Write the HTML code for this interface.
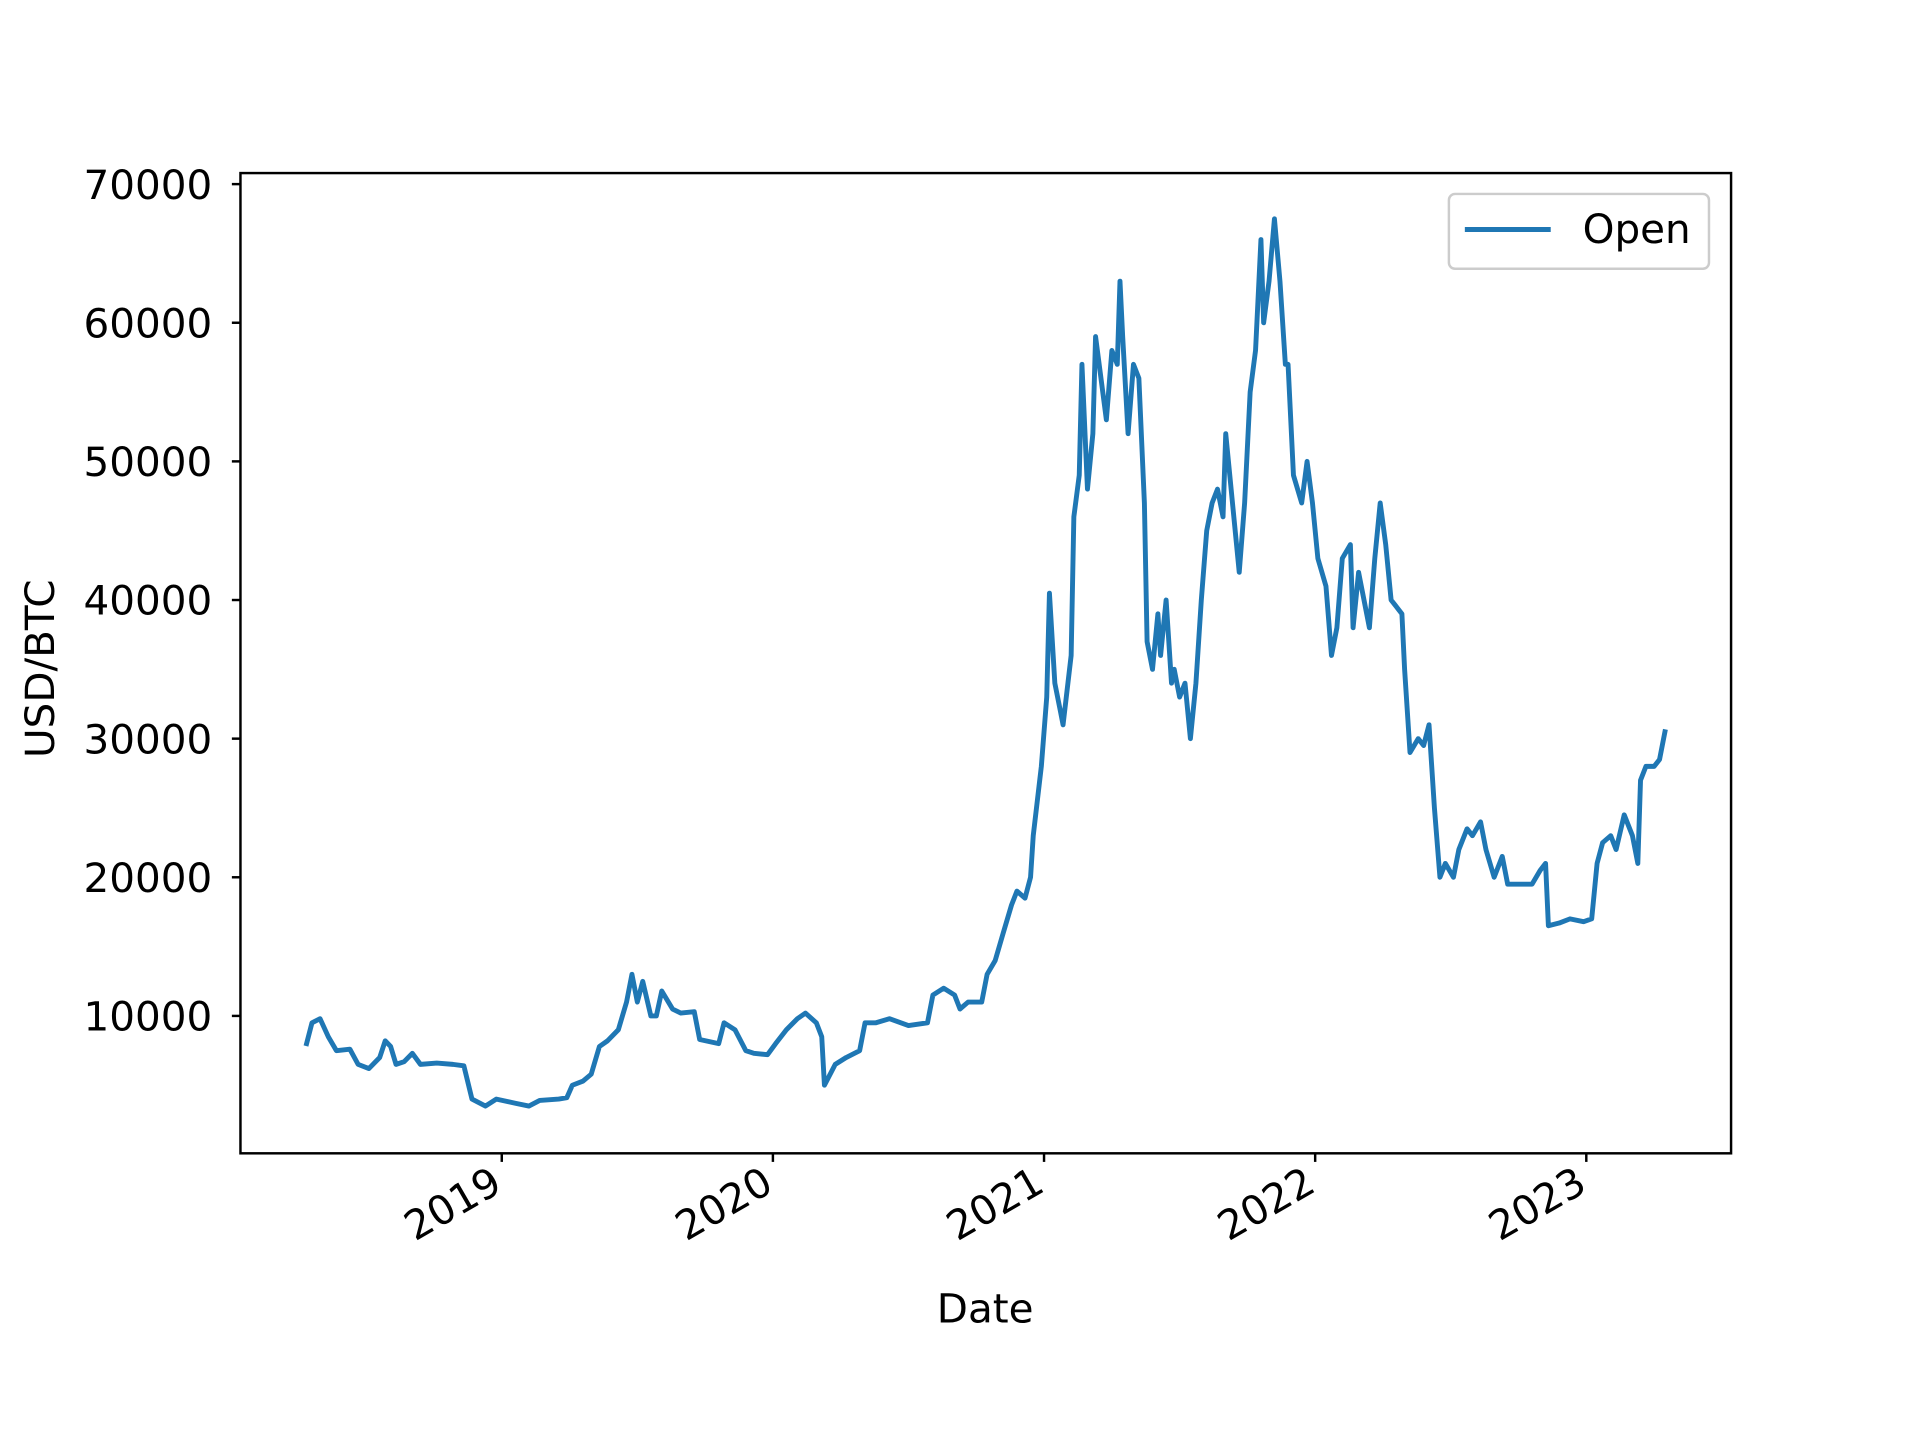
<!DOCTYPE html>
<html><head><meta charset="utf-8"><style>
html,body{margin:0;padding:0;background:#fff;}
svg{display:block;}
text{font-family:"DejaVu Sans","Liberation Sans",sans-serif;fill:#000;}
</style></head><body>
<svg id="chart" width="1920" height="1440" viewBox="0 0 1565 1173.6" xmlns="http://www.w3.org/2000/svg">
<rect width="1565" height="1174" fill="#fff"/>
<g id="plot"></g>
<rect x="196" y="141" width="1215" height="799" fill="none" stroke="#000" stroke-width="2"/>
<g id="yticks"></g>
<g id="xticks"></g>
<text x="0" y="0" font-size="33" text-anchor="middle" transform="translate(44,545) rotate(-90)">USD/BTC</text>
<text x="803" y="1078" font-size="33" text-anchor="middle">Date</text>
<g>
<rect x="1181" y="158" width="212" height="61" rx="5" fill="#fff" fill-opacity="0.8" stroke="#ccc" stroke-width="2"/>
<line x1="1194" y1="187" x2="1264" y2="187" stroke="#1f77b4" stroke-width="4"/>
<text x="1290" y="198" font-size="33">Open</text>
</g>
</svg>
<script>
const dates=[2018.28,2018.30,2018.33,2018.36,2018.39,2018.44,2018.47,2018.51,2018.55,2018.57,2018.59,2018.61,2018.64,2018.67,2018.70,2018.76,2018.82,2018.86,2018.89,2018.94,2018.98,2019.05,2019.10,2019.14,2019.21,2019.24,2019.26,2019.30,2019.33,2019.36,2019.39,2019.43,2019.46,2019.48,2019.50,2019.52,2019.55,2019.57,2019.59,2019.63,2019.66,2019.71,2019.73,2019.80,2019.82,2019.86,2019.90,2019.93,2019.98,2020.01,2020.05,2020.09,2020.12,2020.16,2020.18,2020.19,2020.23,2020.27,2020.32,2020.34,2020.38,2020.43,2020.50,2020.57,2020.59,2020.63,2020.67,2020.69,2020.72,2020.77,2020.79,2020.82,2020.85,2020.88,2020.90,2020.93,2020.95,2020.96,2020.99,2021.01,2021.02,2021.04,2021.06,2021.07,2021.10,2021.11,2021.13,2021.14,2021.16,2021.18,2021.19,2021.21,2021.23,2021.25,2021.27,2021.28,2021.29,2021.31,2021.33,2021.35,2021.37,2021.38,2021.40,2021.42,2021.43,2021.45,2021.47,2021.48,2021.50,2021.52,2021.54,2021.56,2021.58,2021.60,2021.62,2021.64,2021.66,2021.67,2021.70,2021.72,2021.74,2021.76,2021.78,2021.80,2021.81,2021.83,2021.85,2021.87,2021.89,2021.90,2021.92,2021.95,2021.97,2021.99,2022.01,2022.04,2022.06,2022.08,2022.10,2022.13,2022.14,2022.16,2022.18,2022.20,2022.22,2022.24,2022.26,2022.28,2022.30,2022.32,2022.33,2022.35,2022.38,2022.40,2022.42,2022.44,2022.46,2022.48,2022.51,2022.53,2022.56,2022.58,2022.61,2022.63,2022.66,2022.69,2022.71,2022.76,2022.80,2022.83,2022.85,2022.86,2022.90,2022.94,2022.99,2023.02,2023.04,2023.06,2023.09,2023.11,2023.14,2023.17,2023.19,2023.20,2023.22,2023.25,2023.27,2023.29];
const openValues=[8000,9500,9800,8500,7500,7600,6500,6200,7000,8200,7800,6500,6700,7300,6500,6600,6500,6400,4000,3500,4000,3700,3500,3900,4000,4100,5000,5300,5800,7800,8200,9000,11000,13000,11000,12500,10000,10000,11800,10500,10200,10300,8300,8000,9500,9000,7500,7300,7200,8000,9000,9800,10200,9500,8500,5000,6500,7000,7500,9500,9500,9800,9300,9500,11500,12000,11500,10500,11000,11000,13000,14000,16000,18000,19000,18500,20000,23000,28000,33000,40500,34000,32000,31000,36000,46000,49000,57000,48000,52000,59000,56000,53000,58000,57000,63000,59000,52000,57000,56000,47000,37000,35000,39000,36000,40000,34000,35000,33000,34000,30000,34000,40000,45000,47000,48000,46000,52000,46000,42000,47000,55000,58000,66000,60000,63000,67500,63000,57000,57000,49000,47000,50000,47000,43000,41000,36000,38000,43000,44000,38000,42000,40000,38000,43000,47000,44000,40000,39500,39000,35000,29000,30000,29500,31000,25000,20000,21000,20000,22000,23500,23000,24000,22000,20000,21500,19500,19500,19500,20500,21000,16500,16700,17000,16800,17000,21000,22500,23000,22000,24500,23000,21000,27000,28000,28000,28500,30500];
const yTicks=[10000,20000,30000,40000,50000,60000,70000];
const xTicks=[2019,2020,2021,2022,2023];
const NS='http://www.w3.org/2000/svg';
const xs=yr=>409+(yr-2019)*221;
const ys=v=>941-v*113/10000;
const plot=document.getElementById('plot');
const path=document.createElementNS(NS,'path');
path.setAttribute('d',dates.map((d,i)=>(i?'L':'M')+xs(d).toFixed(1)+','+ys(openValues[i]).toFixed(1)).join(''));
path.setAttribute('fill','none');path.setAttribute('stroke','#1f77b4');path.setAttribute('stroke-width','4');path.setAttribute('stroke-linejoin','round');path.setAttribute('stroke-linecap','square');


plot.appendChild(path);
const yg=document.getElementById('yticks');
yTicks.forEach(v=>{
 const y=ys(v);
 const l=document.createElementNS(NS,'line');
 l.setAttribute('x1',189);l.setAttribute('x2',196);l.setAttribute('y1',y);l.setAttribute('y2',y);l.setAttribute('stroke','#000');l.setAttribute('stroke-width','2');
 
 
 yg.appendChild(l);
 const t=document.createElementNS(NS,'text');
 t.setAttribute('x',173);t.setAttribute('y',y+12);t.setAttribute('text-anchor','end');t.setAttribute('font-size','33');
 t.textContent=v;
 
 
 yg.appendChild(t);
});
const xg=document.getElementById('xticks');
xTicks.forEach(yr=>{
 const x=xs(yr);
 const l=document.createElementNS(NS,'line');
 l.setAttribute('x1',x);l.setAttribute('x2',x);l.setAttribute('y1',940);l.setAttribute('y2',947);l.setAttribute('stroke','#000');l.setAttribute('stroke-width','2');
 
 
 xg.appendChild(l);
 const t=document.createElementNS(NS,'text');
 t.setAttribute('x',0);t.setAttribute('y',0);t.setAttribute('text-anchor','end');t.setAttribute('font-size','33');
 t.setAttribute('transform','translate('+(x+2)+',970) rotate(-30)');
 t.textContent=yr;
 
 
 xg.appendChild(t);
});
</script>
</body></html>
